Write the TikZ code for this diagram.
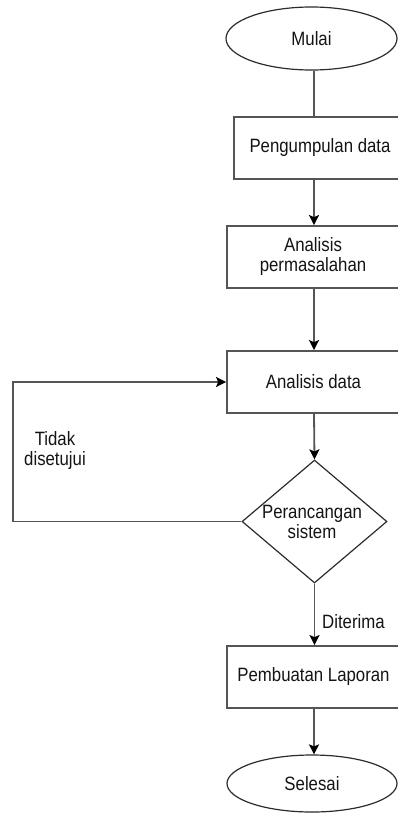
\documentclass[tikz,border=0pt]{standalone}
\usepackage{fontspec}
\setmainfont[FakeStretch=0.87]{Liberation Sans}
\usetikzlibrary{shapes.geometric,arrows.meta}
\definecolor{edge}{RGB}{85,85,85}
\definecolor{ink}{RGB}{20,20,20}
\tikzset{
  x=1pt, y=-1pt,
  txt/.style={font=\fontsize{19.3}{20}\selectfont, text=ink, align=center, inner sep=0pt},
  procbox/.style={draw=edge, line width=1.8pt, fill=white, rectangle, inner sep=0pt},
  term/.style={draw=ink!90, line width=1.2pt, fill=white, ellipse, inner sep=0pt},
  decide/.style={draw=ink!90, line width=1.2pt, fill=white, diamond, inner sep=0pt},
  conn/.style={draw=edge, line width=1.8pt},
  arr/.style={conn, -{Stealth[length=10pt,width=10pt,inset=2pt,color=black]}},
}
\begin{document}
\begin{tikzpicture}
\useasboundingbox (0,0) rectangle (398,816);
% terminals
\node[term, minimum width=171pt, minimum height=63pt] (mulai) at (311.5,38.5) {};
\node[txt] at (mulai) {Mulai};
% process boxes (right edges run past the page edge)
\node[procbox, minimum width=170pt, minimum height=62pt] (peng) at (319,148) {};
\node[txt] at (320,148) {Pengumpulan data};
\node[procbox, minimum width=174pt, minimum height=62pt] (perm) at (314,257) {};
\node[txt] at (313,257) {Analisis\\permasalahan};
\node[procbox, minimum width=174pt, minimum height=62pt] (adata) at (314,382) {};
\node[txt] at (313.5,382) {Analisis data};
\node[decide, minimum width=145pt, minimum height=123pt] (sis) at (314.5,521.5) {};
\node[txt] at (312,521.5) {Perancangan\\sistem};
\node[procbox, minimum width=174pt, minimum height=62pt] (lap) at (314,677) {};
\node[txt] at (313.5,677) {Pembuatan Laporan};
\node[term, minimum width=170pt, minimum height=57pt] (selesai) at (312,783.5) {};
\node[txt] at (selesai) {Selesai};
% connectors
\draw[conn] (mulai.south -| 314,0) -- (peng.north -| 314,0);
\draw[arr] (peng.south -| 314,0) -- (perm.north -| 314,0);
\draw[arr] (perm.south -| 314,0) -- (adata.north -| 314,0);
\draw[arr] (adata.south -| 314,0) -- (sis.north);
\coordinate (fb1) at (13,521.5);
\coordinate (fb2) at (13,382);
\draw[arr] (sis.west) -- (fb1) -- (fb2) -- (adata.west);
\draw[arr] (sis.south) -- (lap.north -| sis.south);
\draw[arr] (lap.south -| 314,0) -- (selesai.north -| 314,0);
% labels
\node[txt, anchor=west] (dit) at (322,622) {Diterima};
\node[txt] (tdk) at (55,451) {Tidak\\disetujui};
\end{tikzpicture}
\end{document}
